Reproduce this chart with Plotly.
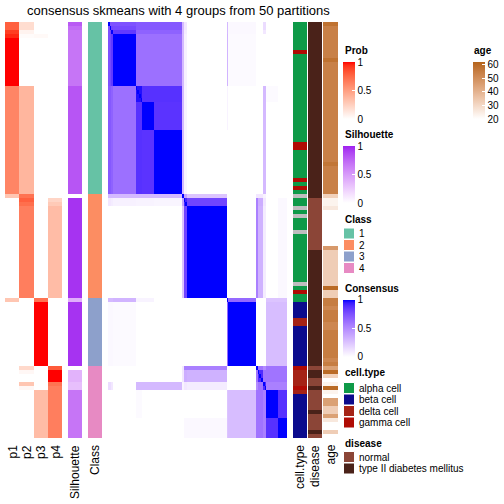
import numpy as np
import plotly.graph_objects as go

# ---------------- data ----------------
# per-sample annotations as run-length lists: (value, number of samples)
class_runs = [(1, 43), (2, 26), (3, 17), (4, 18)]

p1_runs = [(0.78, 2), (0.9, 1), (0.95, 1), (1.0, 12), (0.62, 27), (0.3, 1), (0, 25),
           (0.3, 1), (0, 34)]
p2_runs = [(0.18, 2), (0.06, 1), (0.02, 1), (0, 12), (0.38, 27), (0.7, 1), (0.78, 1),
           (0.72, 1), (0.65, 23), (0, 17), (0.2, 1), (0.04, 1), (0, 2), (0.3, 1),
           (0.04, 1), (0, 12)]
p3_runs = [(0, 3), (0.03, 1), (0, 65), (0.7, 1), (1.0, 16), (0, 6), (0.35, 12)]
p4_runs = [(0, 44), (0.22, 1), (0.28, 1), (0.35, 23), (0, 17), (0.8, 1), (1.0, 3),
           (0.7, 1), (0.65, 1), (0.65, 12)]

silhouette_runs = [(0.8, 1), (0.72, 1), (0.68, 14), (0.82, 27), (0, 1), (0.95, 25),
                   (0.4, 1), (0.95, 16), (0, 1), (0.38, 3), (0.32, 2), (0.68, 12)]

cell_type_runs = [("alpha cell", 7), ("gamma cell", 1), ("alpha cell", 22),
                  ("gamma cell", 2), ("alpha cell", 7), ("gamma cell", 1),
                  ("alpha cell", 1), ("gamma cell", 1), ("alpha cell", 1), (None, 1),
                  ("alpha cell", 2), (None, 1), ("alpha cell", 1), (None, 1),
                  ("alpha cell", 3), (None, 1), ("alpha cell", 12), (None, 1),
                  ("alpha cell", 1), ("gamma cell", 1), ("alpha cell", 2),
                  ("beta cell", 4), ("delta cell", 2), ("beta cell", 10),
                  ("gamma cell", 1), ("delta cell", 4), ("gamma cell", 1),
                  ("delta cell", 1), ("beta cell", 11)]

disease_runs = [("type II diabetes mellitus", 44), ("normal", 13),
                ("type II diabetes mellitus", 29), ("normal", 1),
                ("type II diabetes mellitus", 2), ("normal", 2),
                ("type II diabetes mellitus", 1), ("normal", 5),
                ("type II diabetes mellitus", 1), ("normal", 4),
                ("type II diabetes mellitus", 1), ("normal", 1)]

age_runs = [(58, 1), (54, 8), (58, 1), (54, 25), (57, 1), (54, 7), (32, 1), (23, 2),
            (26, 1), (20, 9), (47, 1), (33, 9), (60, 1), (33, 2), (55, 2), (52, 1),
            (55, 3), (52, 2), (55, 7), (52, 1), (55, 1), (45, 1), (60, 1), (32, 1),
            (20, 1), (23, 1), (60, 1), (23, 1), (20, 1), (45, 2), (33, 2), (45, 1),
            (26, 1), (20, 2), (33, 1), (20, 1)]

# consensus matrix as blocks of sample groups (sizes in sample order)
group_sizes = [1, 1, 1, 13, 4, 7, 16, 1, 2, 23, 1, 16, 1, 3, 2, 7, 5]
group_consensus = [
    [1, .75, .75, .75, .72, .72, .72, .30, .10, 0, .30, .03, 0, 0, .15, 0, 0],
    [.75, 1, .80, .78, .72, .72, .72, .30, .10, 0, .30, .03, 0, 0, .15, 0, 0],
    [.75, .80, 1, .85, .68, .68, .68, .30, .08, 0, .30, .03, 0, 0, .10, 0, 0],
    [.75, .78, .85, 1, .62, .62, .62, .30, .06, 0, .32, .02, 0, 0, 0, 0, 0],
    [.72, .72, .68, .62, .97, .88, .88, .30, .05, 0, .05, 0, 0, 0, .30, .02, 0],
    [.72, .72, .68, .62, .88, 1, .87, .30, .05, 0, .05, 0, 0, 0, .30, 0, 0],
    [.72, .72, .68, .62, .88, .87, 1, .30, .04, 0, 0, 0, 0, 0, .30, 0, 0],
    [.30, .30, .30, .30, .30, .30, .30, 1, .40, .25, 0, 0, .10, .10, .05, 0, 0],
    [.10, .10, .08, .06, .05, .05, .04, .40, .92, .80, 0, 0, .55, .35, .10, 0, .03],
    [0, 0, 0, 0, 0, 0, 0, .25, .80, 1, 0, 0, .55, .33, .08, 0, .03],
    [.30, .30, .30, .32, .05, .05, 0, 0, 0, 0, 1, .65, 0, 0, 0, .25, .25],
    [.03, .03, .03, .02, 0, 0, 0, 0, 0, 0, .65, 1, 0, 0, 0, .28, .28],
    [0, 0, 0, 0, 0, 0, 0, .10, .55, .55, 0, 0, 1, .60, .50, .60, .60],
    [0, 0, 0, 0, 0, 0, 0, .10, .35, .33, 0, 0, .60, .90, .60, .60, .60],
    [.15, .15, .10, 0, .30, .30, .30, .05, .10, .08, 0, 0, .50, .60, .90, .55, .55],
    [0, 0, 0, 0, .02, 0, 0, 0, 0, 0, .25, .28, .60, .60, .55, 1, .88],
    [0, 0, 0, 0, 0, 0, 0, 0, .03, .03, .25, .28, .60, .60, .55, .88, 1],
]

prob_labels = ["p1", "p2", "p3", "p4"]
class_levels = [1, 2, 3, 4]
class_colors = ["#66C2A5", "#FC8D62", "#8DA0CB", "#E78AC3"]
cell_levels = ["alpha cell", "beta cell", "delta cell", "gamma cell", None]
cell_colors = ["#0E9A48", "#0B0B8D", "#A52316", "#B00B04", "#BEBEBE"]
disease_levels = ["normal", "type II diabetes mellitus"]
disease_colors = ["#8B4537", "#4A2219"]

# ---------------- helpers ----------------
def expand(runs):
    return [v for v, n in runs for _ in range(n)]


def hex_rgb(h):
    h = h.lstrip("#")
    return np.array([int(h[i:i + 2], 16) for i in (0, 2, 4)], float) / 255


def rgb_lab(c):
    c = np.where(c > 0.04045, ((c + 0.055) / 1.055) ** 2.4, c / 12.92)
    M = np.array([[0.4124, 0.3576, 0.1805], [0.2126, 0.7152, 0.0722],
                  [0.0193, 0.1192, 0.9505]])
    xyz = M @ c / np.array([0.95047, 1.0, 1.08883])
    f = np.where(xyz > 0.008856, np.cbrt(xyz), 7.787 * xyz + 16 / 116)
    return np.array([116 * f[1] - 16, 500 * (f[0] - f[1]), 200 * (f[1] - f[2])])


def lab_rgb(lab):
    L, a, b = lab
    fy = (L + 16) / 116
    fx = fy + a / 500
    fz = fy - b / 200
    f = np.array([fx, fy, fz])
    xyz = np.where(f ** 3 > 0.008856, f ** 3, (f - 16 / 116) / 7.787)
    xyz = xyz * np.array([0.95047, 1.0, 1.08883])
    Mi = np.array([[3.2406, -1.5372, -0.4986], [-0.9689, 1.8758, 0.0415],
                   [0.0557, -0.2040, 1.0570]])
    c = Mi @ xyz
    c = np.where(c > 0.0031308, 1.055 * np.clip(c, 0, None) ** (1 / 2.4) - 0.055, 12.92 * c)
    c = np.clip(c, 0, 1)
    return "rgb(%d,%d,%d)" % tuple(np.round(c * 255))


def lab_scale(c0, c1, n=21):
    l0, l1 = rgb_lab(hex_rgb(c0)), rgb_lab(hex_rgb(c1))
    return [[i / (n - 1), lab_rgb(l0 + (l1 - l0) * i / (n - 1))] for i in range(n)]


def discrete_scale(colors):
    n = len(colors)
    s = []
    for i, c in enumerate(colors):
        s += [[i / n, c], [(i + 1) / n, c]]
    return s


FONT = "Liberation Sans, Arial, Helvetica, sans-serif"
W = H = 504


def px(v):
    return v / W


def py(v):
    return 1 - v / H


# ---------------- build arrays ----------------
classes = expand(class_runs)
N = len(classes)
rows = list(range(N))
probs = np.array([expand(p1_runs), expand(p2_runs), expand(p3_runs), expand(p4_runs)]).T
sil = np.array(expand(silhouette_runs))[:, None]
cls_code = np.array([class_levels.index(c) for c in classes])[:, None]
cell_code = np.array([cell_levels.index(c) for c in expand(cell_type_runs)])[:, None]
dis_code = np.array([disease_levels.index(c) for c in expand(disease_runs)])[:, None]
age = np.array(expand(age_runs), float)[:, None]

gidx = np.repeat(np.arange(len(group_sizes)), group_sizes)
G = np.array(group_consensus)
cons = G[gidx][:, gidx]
np.fill_diagonal(cons, 1.0)

fig = go.Figure()
ann = []


def cbar(title, x, ybar, tickvals, ticktext):
    # title drawn as a separate annotation above the bar
    ann.append(dict(text="<b>%s</b>" % title, x=px(x - 0.5), y=py(ybar - 11.5),
                    xref="paper", yref="paper", showarrow=False, xanchor="left",
                    yanchor="middle", font=dict(size=10, family=FONT)))
    return dict(
        x=px(x), xanchor="left", y=py(ybar), yanchor="top",
        xref="container", yref="container",
        len=57, lenmode="pixels", thickness=12, thicknessmode="pixels",
        tickvals=tickvals, ticktext=ticktext, ticks="inside", ticklen=3,
        tickcolor="white", tickfont=dict(size=10, family=FONT, color="black"),
        outlinewidth=0, xpad=0, ypad=0,
    )


fig.add_trace(go.Heatmap(z=probs, x=prob_labels, y=rows, xaxis="x", yaxis="y",
                         zmin=0, zmax=1, colorscale=lab_scale("#FFFFFF", "#FF0000"),
                         colorbar=cbar("Prob", 343, 62, [0, 0.5, 1], ["0", "0.5", "1"]),
                         hoverinfo="skip"))
fig.add_trace(go.Heatmap(z=sil, x=["Silhouette"], y=rows, xaxis="x2", yaxis="y",
                         zmin=0, zmax=1, colorscale=lab_scale("#FFFFFF", "#A020F0"),
                         colorbar=cbar("Silhouette", 343, 146, [0, 0.5, 1], ["0", "0.5", "1"]),
                         hoverinfo="skip"))
fig.add_trace(go.Heatmap(z=cls_code, x=["Class"], y=rows, xaxis="x3", yaxis="y",
                         zmin=-0.5, zmax=len(class_levels) - 0.5,
                         colorscale=discrete_scale(class_colors), showscale=False,
                         hoverinfo="skip"))
fig.add_trace(go.Heatmap(z=cons, x=rows, y=rows, xaxis="x4", yaxis="y",
                         zmin=0, zmax=1, colorscale=lab_scale("#FFFFFF", "#0000FF"),
                         colorbar=cbar("Consensus", 343, 299.5, [0, 0.5, 1], ["0", "0.5", "1"]),
                         hoverinfo="skip"))
fig.add_trace(go.Heatmap(z=cell_code, x=["cell.type"], y=rows, xaxis="x5", yaxis="y",
                         zmin=-0.5, zmax=len(cell_levels) - 0.5,
                         colorscale=discrete_scale(cell_colors), showscale=False,
                         hoverinfo="skip"))
fig.add_trace(go.Heatmap(z=dis_code, x=["disease"], y=rows, xaxis="x6", yaxis="y",
                         zmin=-0.5, zmax=len(disease_levels) - 0.5,
                         colorscale=discrete_scale(disease_colors), showscale=False,
                         hoverinfo="skip"))
fig.add_trace(go.Heatmap(z=age, x=["age"], y=rows, xaxis="x7", yaxis="y",
                         zmin=20, zmax=62, colorscale=lab_scale("#FFFFFF", "#B5641A"),
                         colorbar=cbar("age", 472.7, 62, [20, 30, 40, 50, 60],
                                       ["20", "30", "40", "50", "60"]),
                         hoverinfo="skip"))

domains = {"xaxis": (5, 62), "xaxis2": (68, 82), "xaxis3": (88, 102),
           "xaxis4": (108, 287), "xaxis5": (293, 307), "xaxis6": (308, 322),
           "xaxis7": (323, 338)}
layout = dict(width=W, height=H,
              margin=dict(l=0, r=0, t=0, b=0, pad=0, autoexpand=False),
              paper_bgcolor="white", plot_bgcolor="white", showlegend=False,
              font=dict(family=FONT, color="black"))
for k, (a, b) in domains.items():
    layout[k] = dict(domain=[px(a), px(b)], anchor="y", visible=False, fixedrange=True)
layout["yaxis"] = dict(domain=[py(438), py(22)], range=[N - 0.5, -0.5], visible=False,
                       anchor="x", fixedrange=True)
fig.update_layout(**layout)

ann.append(dict(text="consensus skmeans with 4 groups from 50 partitions", x=px(178),
                y=py(10), xref="paper", yref="paper", showarrow=False,
                font=dict(size=13, family=FONT), xanchor="center", yanchor="middle"))
bottom_labels = [("p1", 12.5), ("p2", 27), ("p3", 41), ("p4", 55.5), ("Silhouette", 75),
                 ("Class", 95), ("cell.type", 300), ("disease", 315), ("age", 330.5)]
for t, xc in bottom_labels:
    ann.append(dict(text=t, x=px(xc), y=py(443), xref="paper", yref="paper",
                    showarrow=False, textangle=-90, xanchor="center", yanchor="top",
                    font=dict(size=12, family=FONT)))

shapes = []


def discrete_legend(title, ytitle, labels, colors, ystart):
    ann.append(dict(text="<b>%s</b>" % title, x=px(342.5), y=py(ytitle), xref="paper",
                    yref="paper", showarrow=False, xanchor="left", yanchor="middle",
                    font=dict(size=10, family=FONT)))
    for i, (lab, col) in enumerate(zip(labels, colors)):
        y0 = ystart + i * 11.5
        shapes.append(dict(type="rect", xref="paper", yref="paper", x0=px(343.5),
                           x1=px(354.5), y0=py(y0), y1=py(y0 + 11), fillcolor=col,
                           line=dict(color="white", width=1)))
        ann.append(dict(text=str(lab), x=px(356.5), y=py(y0 + 5.7), xref="paper",
                        yref="paper", showarrow=False, xanchor="left", yanchor="middle",
                        font=dict(size=10, family=FONT)))


discrete_legend("Class", 219, class_levels, class_colors, 228)
discrete_legend("cell.type", 372.7, cell_levels[:4], cell_colors[:4], 382.5)
discrete_legend("disease", 443.3, disease_levels, disease_colors, 451.5)

fig.update_layout(annotations=ann, shapes=shapes)
fig.write_html("out.html", config={"displayModeBar": False},
               post_script="document.body.style.margin='0';"
                           "document.body.style.overflow='hidden';")
